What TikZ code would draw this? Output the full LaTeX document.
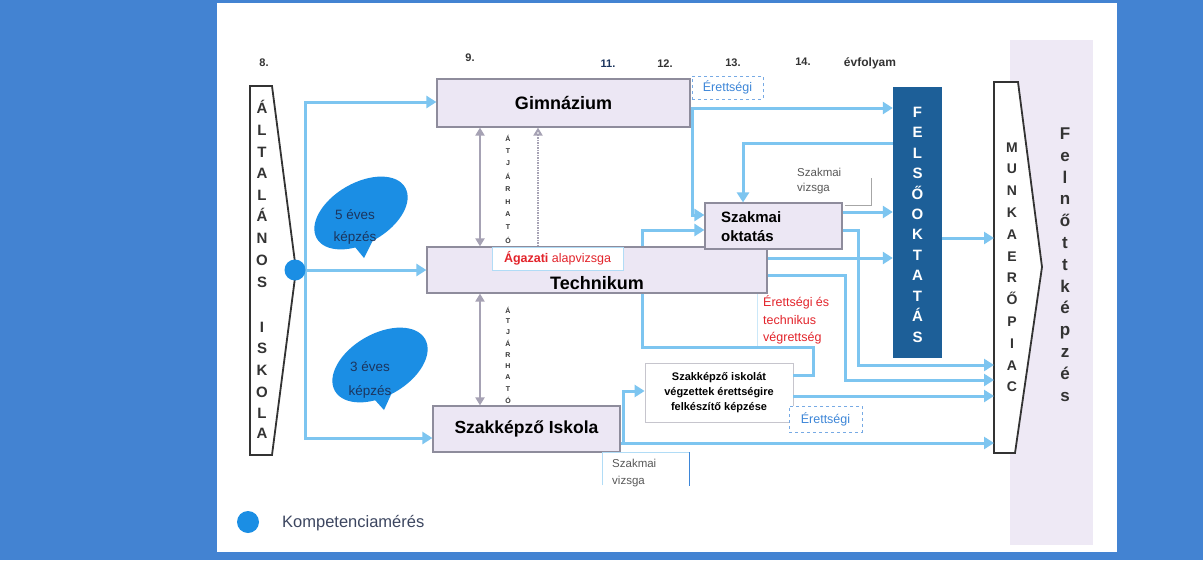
\documentclass[tikz,border=0pt]{standalone}
\usepackage{fontspec}
\setmainfont{Liberation Sans}
\usetikzlibrary{arrows.meta,calc}
\definecolor{bgblue}{HTML}{4383D2}
\definecolor{arrowblue}{HTML}{7DC5F0}
\definecolor{boxfill}{HTML}{ECE7F4}
\definecolor{boxline}{HTML}{8E8C9C}
\definecolor{felsoc}{HTML}{1D5F98}
\definecolor{stripc}{HTML}{EEE9F5}
\definecolor{bubblec}{HTML}{1B8EE4}
\definecolor{grayarrow}{HTML}{A6A2B4}
\definecolor{redtext}{HTML}{E3242B}
\definecolor{eblue}{HTML}{3D86D8}
\definecolor{darkline}{HTML}{333333}
\definecolor{navytext}{HTML}{1C355E}
\definecolor{legendtext}{HTML}{3C4660}
\tikzset{
  conn/.style={draw=arrowblue, line width=3pt},
  arr/.style={draw=arrowblue, line width=3pt, -{Triangle[length=10pt,width=12pt]}},
  gdbl/.style={draw=grayarrow, line width=2.5pt, {Triangle[length=8pt,width=9pt]}-{Triangle[length=8pt,width=9pt]}},
  gdot/.style={draw=grayarrow, line width=2pt, dash pattern=on 1.5pt off 1pt, -{Triangle[length=8pt,width=9pt,open]}},
  box/.style={draw=boxline, fill=boxfill, line width=1.2pt, inner sep=0pt},
  vletter/.style={inner sep=0pt, text height=10.5pt, text depth=0pt, font=\fontsize{15}{15}\selectfont\bfseries},
  tinyletter/.style={inner sep=0pt, font=\fontsize{7}{7}\selectfont\bfseries, text=darkline},
  yearlbl/.style={font=\fontsize{11}{11}\selectfont\bfseries, text=darkline},
  erettbox/.style={draw=eblue!70, dashed, line width=0.8pt, fill=white, inner sep=0pt, text=eblue, font=\fontsize{12.5}{12.5}\selectfont},
  smalllbl/.style={align=left, inner sep=0pt, text=black!65, font=\fontsize{11.5}{15}\selectfont},
  bubble/.style={fill=bubblec}
}
\begin{document}
\begin{tikzpicture}[x=1pt,y=-1pt]
\fill[bgblue] (0,0) rectangle (1203,560);
\fill[white] (217,3) rectangle (1117,552);
\useasboundingbox (0,0) rectangle (1203,560);

% year labels
\node[yearlbl] (y8) at (264,63) {8.};
\node[yearlbl] (y9) at (470,58) {9.};
\node[yearlbl, text=navytext] (y11) at (608,64) {11.};
\node[yearlbl] (y12) at (665,64) {12.};
\node[yearlbl] (y13) at (733,63) {13.};
\node[yearlbl] (y14) at (803,62) {14.};
\node[yearlbl, font=\fontsize{12}{12}\selectfont\bfseries] (evf) at (870,63) {évfolyam};

% Felnottkepzes strip
\fill[stripc] (1010,40) rectangle (1093,545);

% left shape
\draw[line width=1.8pt, draw=darkline, fill=white] (250,86) -- (272,86) -- (296,270) -- (272,455) -- (250,455) -- cycle;
\coordinate (alt) at (296,270);
\foreach \ch/\yy [count=\i] in {Á/108,L/130,T/152,A/173,L/195,Á/216,N/238,O/260,S/282,I/327,S/348,K/370,O/392,L/413,A/433}
  \node[vletter, text=darkline] (al\i) at (262,\yy) {\ch};

% right shape
\draw[line width=1.8pt, draw=darkline, fill=white] (994,82) -- (1018,82) -- (1042,267) -- (1015,453) -- (994,453) -- cycle;
\coordinate (mpw) at (994,267);
\foreach \ch [count=\i] in {M,U,N,K,A,E,R,Ő,P,I,A,C}
  \node[vletter, font=\fontsize{14}{14}\selectfont\bfseries, text height=10pt, text=darkline] (mp\i) at (1012,{147+(\i-1)*21.8}) {\ch};

% Felnottkepzes letters
\foreach \ch [count=\i] in {F,e,l,n,ő,t,t,k,é,p,z,é,s}
  \node[vletter, font=\fontsize{17}{17}\selectfont\bfseries, text height=9pt, text=darkline] (fk\i) at (1065,{135+(\i-1)*21.8}) {\ch};

% boxes
\node[box, minimum width=253pt, minimum height=48pt] (gim) at (563.5,103) {\fontsize{18}{20}\selectfont\bfseries Gimnázium};
\node[box, minimum width=340pt, minimum height=46pt] (tech) at (597,270) {};
\node[box, minimum width=137pt, minimum height=46pt] (szo) at (773.5,226) {};
\node[anchor=west, align=left, inner sep=0pt, font=\fontsize{15}{19}\selectfont\bfseries] (szot) at (721,227) {Szakmai\\oktatás};
\node[inner sep=0pt, font=\fontsize{18}{20}\selectfont\bfseries] (techt) at (597,283) {Technikum};
\node[box, minimum width=187pt, minimum height=46pt] (szi) at (526.5,429) {\fontsize{17.5}{20}\selectfont\bfseries Szakképző Iskola};
\node[draw=boxline!50, fill=white, line width=0.8pt, minimum width=148pt, minimum height=59pt, inner sep=0pt, align=center, font=\fontsize{11}{15}\selectfont\bfseries] (ere) at (719,392.5) {Szakképző iskolát\\végzettek érettségire\\felkészítő képzése};
\node[fill=felsoc, minimum width=49pt, minimum height=271pt, inner sep=0pt] (felso) at (917.5,222.5) {};
\foreach \ch [count=\i] in {F,E,L,S,Ő,O,K,T,A,T,Á,S}
  \node[vletter, text=white] (fo\i) at (917.5,{112+(\i-1)*20.45}) {\ch};

% labels on boxes
\node[draw=arrowblue!60, fill=white, line width=0.8pt, minimum width=131pt, minimum height=23pt, inner sep=0pt, text=redtext, font=\fontsize{12.5}{12.5}\selectfont] (aga) at (557.5,258.5) {\textbf{Ágazati} alapvizsga};
\node[erettbox, minimum width=71pt, minimum height=23pt] (er1) at (727.5,87.5) {Érettségi};
\node[erettbox, minimum width=73pt, minimum height=26pt] (er2) at (825.5,419) {Érettségi};
\draw[draw=arrowblue!40, line width=0.8pt] (757,294) -- (757,346);
\node[anchor=west, align=left, inner sep=0pt, text=redtext, font=\fontsize{12.5}{17.5}\selectfont] (etv) at (763,320) {Érettségi és\\technikus\\végrettség};
\node[smalllbl, anchor=west] (szv1) at (797,181) {Szakmai\\vizsga};
\draw[draw=black!35, line width=0.8pt] (871,178) -- (871,205) -- (845,205);
\node[smalllbl, anchor=west, font=\fontsize{11.5}{17}\selectfont] (szv2) at (612,473) {Szakmai\\vizsga};
\draw[draw=arrowblue!60, line width=0.8pt] (602,485) -- (602,452) -- (689,452);
\draw[draw=eblue, line width=0.8pt] (689,452) -- (689,486);

% left connectors
\coordinate (split) at (305,270);
\draw[arr] (split) |- (gim.west |- 0,102);
\draw[arr] (split) |- (szi.west |- 0,438);
\draw[arr] (alt) -- (tech.west);

% gimnazium connectors
\draw[arr] (gim.east |- 0,108) -- (felso.west |- 0,108);
\draw[arr] (692,108) |- (szo.west |- 0,215);
\draw[arr] (felso.west |- 0,143) -| (743,0 |- szo.north);
% szakmai oktatas connectors
\draw[arr] (szo.east |- 0,212) -- (felso.west |- 0,212);
\draw[arr] (szo.east |- 0,230) -| (858,365) -- (mpw |- 0,365);
% technikum connectors
\draw[arr] (tech.east |- 0,258) -- (felso.west |- 0,258);
\draw[arr] (tech.east |- 0,275) -| (845,380) -- (mpw |- 0,380);
\draw[arr] (642,0 |- tech.north) |- (szo.west |- 0,230);
\draw[conn] (642,0 |- tech.south) |- (813,347) |- (ere.east |- 0,375);
% felsooktatas to munkaeropiac
\draw[arr] (felso.east |- 0,238) -- (mpw |- 0,238);
% erettsegire box and szakkepzo
\draw[arr] (ere.east |- 0,396) -- (mpw |- 0,396);
\draw[arr] (szi.east |- 0,443) -- (mpw |- 0,443);
\draw[arr] (623,443) |- (ere.west |- 0,391);

% gray arrows
\draw[gdbl] (480,0 |- gim.south) -- (480,0 |- tech.north);
\draw[gdbl] (480,0 |- tech.south) -- (480,0 |- szi.north);
\draw[gdot] (538,0 |- tech.north) -- (538,0 |- gim.south);
\foreach \ch [count=\i] in {Á,T,J,Á,R,H,A,T,Ó}
  \node[tinyletter] (t1\i) at (508,{138+(\i-1)*12.75}) {\ch};
\foreach \ch [count=\i] in {Á,T,J,Á,R,H,A,T,Ó}
  \node[tinyletter] (t2\i) at (508,{310+(\i-1)*11.25}) {\ch};

% bubbles
\fill[bubble, rotate around={30:(361,213)}] (361,213) ellipse [x radius=51, y radius=30];
\fill[bubble] (346,236) -- (374,238) -- (364,258) -- cycle;
\node[inner sep=0pt, align=center, text=navytext, font=\fontsize{13.5}{22}\selectfont] (b5) at (355,227) {5 éves\\képzés};
\fill[bubble, rotate around={30:(380,365)}] (380,365) ellipse [x radius=52, y radius=31];
\fill[bubble] (366,390) -- (394,388) -- (384,410) -- cycle;
\node[inner sep=0pt, align=center, text=navytext, font=\fontsize{13.5}{24}\selectfont] (b3) at (370,380) {3 éves\\képzés};

% competence dot
\node[circle, fill=bubblec, minimum size=21pt, inner sep=0pt] (dot) at (295,270) {};

% legend
\node[circle, fill=bubblec, minimum size=22pt, inner sep=0pt] (ldot) at (248,522) {};
\node[anchor=west, inner sep=0pt, text=legendtext, font=\fontsize{16.5}{16.5}\selectfont] (ltext) at (282,523) {Kompetenciamérés};
\end{tikzpicture}
\end{document}
